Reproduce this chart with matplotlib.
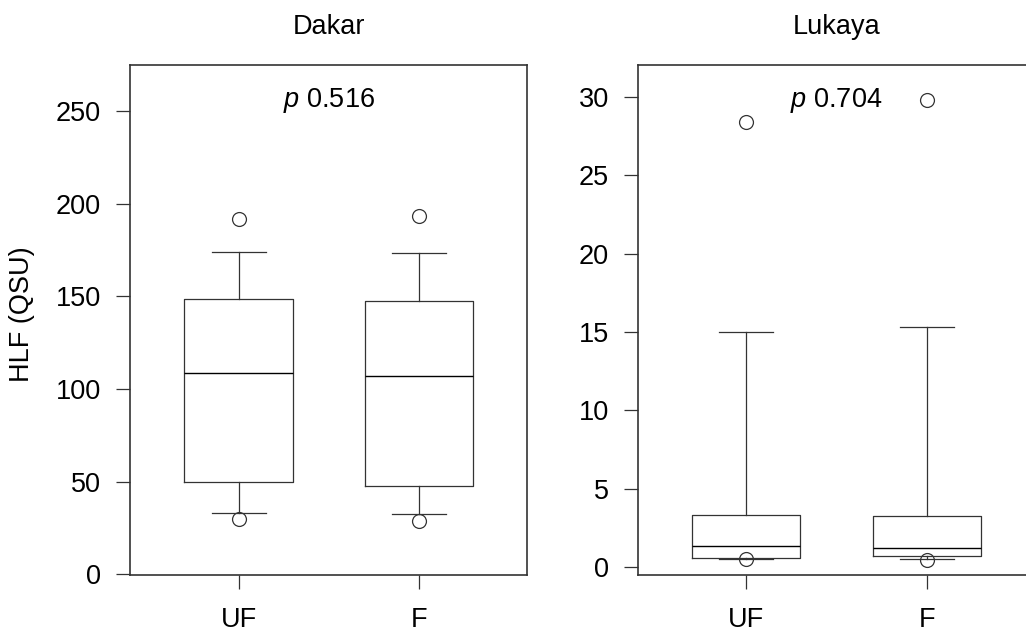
import matplotlib
matplotlib.use("Agg")
import matplotlib.pyplot as plt

plt.rcParams["font.family"] = ["Liberation Sans", "DejaVu Sans"]
plt.rcParams["mathtext.fontset"] = "custom"
plt.rcParams["mathtext.it"] = "Liberation Sans:italic"
plt.rcParams["mathtext.rm"] = "Liberation Sans"

groups = ["UF", "F"]

# Dakar: box statistics per group
dakar_whislo = [32.8, 32.2]
dakar_q1 = [49.8, 47.6]
dakar_med = [108.8, 106.8]
dakar_q3 = [148.5, 147.3]
dakar_whishi = [173.8, 173.6]
dakar_fliers = [[191.9, 29.7], [193.5, 28.4]]
dakar_p = "0.516"

# Lukaya: box statistics per group
lukaya_whislo = [0.50, 0.50]
lukaya_q1 = [0.59, 0.68]
lukaya_med = [1.32, 1.23]
lukaya_q3 = [3.28, 3.25]
lukaya_whishi = [14.97, 15.33]
lukaya_fliers = [[28.43, 0.50], [29.8, 0.45]]
lukaya_p = "0.704"

LINE = "#333333"
FS = 19.5


def make_stats(whislo, q1, med, q3, whishi, fliers):
    '''
    Build the list of dicts that bxp wants
    '''
    stats = []
    for i in range(len(groups)):
        stats.append({
            "whislo": whislo[i], "q1": q1[i], "med": med[i],
            "q3": q3[i], "whishi": whishi[i], "fliers": fliers[i],
            "label": groups[i],
        })
    return stats


def draw_panel(ax, stats, title, p_value, ylim, yticks):
    '''
    Draw one R-style boxplot panel
    '''
    line = {"color": LINE, "linewidth": 0.9}
    ax.bxp(stats, positions=[1, 2], widths=0.6,
           boxprops=line, whiskerprops=line, capprops=line,
           medianprops={"color": "black", "linewidth": 1.0},
           flierprops={"marker": "o", "markersize": 10, "markerfacecolor": "none",
                       "markeredgecolor": LINE, "markeredgewidth": 0.9})
    ax.set_xlim(0.4, 2.6)
    ax.set_ylim(*ylim)
    ax.set_yticks(yticks)
    ax.set_xticks([1, 2])
    ax.set_xticklabels(groups)
    ax.tick_params(direction="out", length=10, width=0.9, color=LINE,
                   labelsize=FS)
    ax.tick_params(axis="x", pad=13)
    ax.tick_params(axis="y", pad=11)
    for s in ax.spines.values():
        s.set_color(LINE)
        s.set_linewidth(1.2)
    ax.set_title(title, fontsize=FS, pad=22)
    ax.text(0.5, 0.931, r"$\it{p}$ " + p_value, transform=ax.transAxes,
            ha="center", va="center", fontsize=FS)


fig = plt.figure(figsize=(10.26, 6.32), dpi=100)
ax1 = fig.add_axes([0.127, 0.0902, 0.387, 0.807])
ax2 = fig.add_axes([0.6218, 0.0902, 0.3872, 0.807])

draw_panel(ax1, make_stats(dakar_whislo, dakar_q1, dakar_med, dakar_q3,
                           dakar_whishi, dakar_fliers),
           "Dakar", dakar_p, (-0.5, 275), range(0, 251, 50))
draw_panel(ax2, make_stats(lukaya_whislo, lukaya_q1, lukaya_med, lukaya_q3,
                           lukaya_whishi, lukaya_fliers),
           "Lukaya", lukaya_p, (-0.52, 32.05), range(0, 31, 5))

ax1.set_ylabel("HLF (QSU)", fontsize=FS)
ax1.yaxis.set_label_coords(-0.240, 0.512)

fig.savefig("out.png", dpi=100)
